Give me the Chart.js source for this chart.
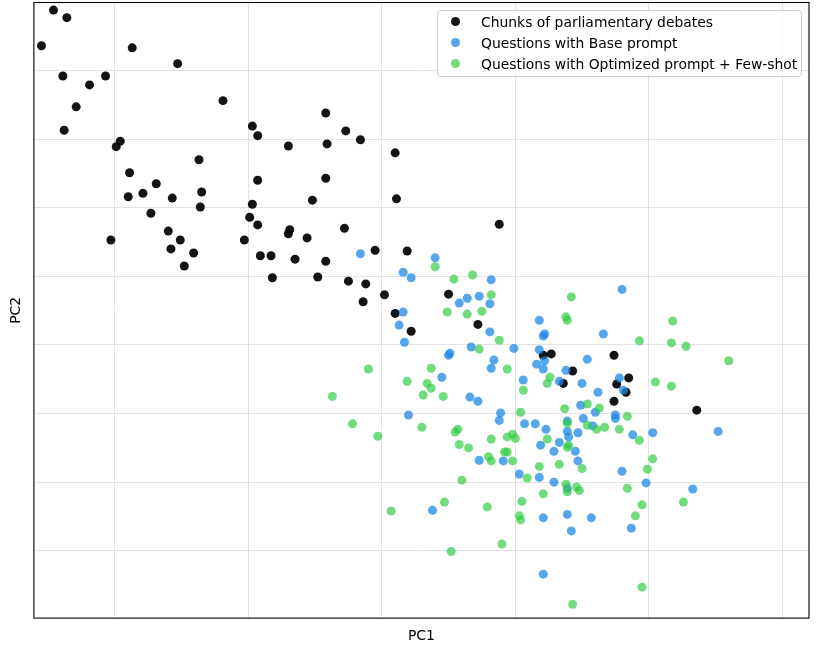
<!DOCTYPE html>
<html>
<head>
<meta charset="utf-8">
<script src="https://cdn.jsdelivr.net/npm/chart.js@4.4.1/dist/chart.umd.min.js"></script>
<style>
  body { margin: 0; background: #fff; }
  #wrap { position: relative; width: 819px; height: 653px; }
  #legend {
    position: absolute; left: 437px; top: 10px; width: 365px; height: 67px;
    box-sizing: border-box; border: 1px solid #cccccc; border-radius: 4px;
    background: rgba(255,255,255,0.8);
    font: 13.9px 'DejaVu Sans', sans-serif; color: #000;
  }
  #legend .item { display: flex; align-items: center; height: 21px; padding-left: 13px; white-space: nowrap; }
  #legend .dot  { width: 9px; height: 9px; border-radius: 50%; margin-right: 21px; flex: none; }
</style>
</head>
<body>
<div id="wrap">
  <canvas id="pca" width="819" height="653"></canvas>
  <div id="legend"></div>
</div>
<script>
// ── Data (PC1 / PC2 coordinates) ───────────────────────────────────────

const chunksPC1 = [-0.246,-0.236,-0.255,-0.187,-0.153,-0.239,-0.219,-0.207,-0.229,-0.119,
  -0.238,-0.097,-0.093,-0.070,-0.196,-0.199,-0.137,-0.189,-0.093,-0.169,
  -0.179,-0.190,-0.157,-0.135,-0.136,-0.097,-0.173,-0.099,-0.093,-0.160,
  -0.151,-0.203,-0.103,-0.069,-0.070,-0.158,-0.141,-0.091,-0.083,-0.148,
  -0.082,-0.042,-0.027,-0.041,-0.016,0.010,-0.042,-0.052,0.011,0.088,
  -0.056,-0.028,-0.005,0.019,-0.065,-0.042,-0.048,-0.025,-0.012,-0.014,
  0.002,0.010,0.022,0.050,0.072,0.121,0.127,0.143,0.174,0.136,
  0.185,0.176,0.183,0.174,0.236];
const chunksPC2 = [0.388,0.377,0.336,0.333,0.310,0.292,0.279,0.292,0.247,0.256,
  0.213,0.219,0.205,0.190,0.197,0.189,0.170,0.151,0.140,0.135,
  0.121,0.116,0.114,0.123,0.101,0.105,0.092,0.086,0.075,0.066,
  0.053,0.053,0.053,0.068,0.062,0.040,0.034,0.030,0.030,0.015,
  -0.002,0.238,0.212,0.193,0.199,0.180,0.143,0.111,0.113,0.076,
  0.056,0.070,0.038,0.037,0.025,0.022,-0.001,-0.007,-0.011,-0.037,
  -0.027,-0.054,-0.080,-0.026,-0.070,-0.115,-0.113,-0.138,-0.115,-0.156,
  -0.148,-0.157,-0.169,-0.182,-0.195];

const basePC1 = [-0.016,0.040,0.016,0.022,0.082,0.058,0.064,0.073,0.081,0.016,
  0.013,0.081,0.017,0.067,0.051,0.050,0.118,0.122,0.121,0.099,
  0.118,0.084,0.122,0.116,0.082,0.121,0.138,0.154,0.166,0.180,
  0.045,0.066,0.072,0.020,0.073,0.106,0.133,0.150,0.162,0.178,
  0.181,0.089,0.088,0.107,0.115,0.123,0.149,0.160,0.151,0.139,
  0.139,0.140,0.147,0.158,0.175,0.175,0.188,0.119,0.129,0.133,
  0.145,0.147,0.091,0.103,0.118,0.129,0.180,0.198,0.139,0.203,
  0.252,0.233,0.038,0.121,0.139,0.157,0.142,0.187,0.121];
const basePC2 = [0.033,0.027,0.006,-0.002,-0.005,-0.039,-0.032,-0.029,-0.040,-0.052,
  -0.071,-0.081,-0.096,-0.103,-0.112,-0.115,-0.064,-0.084,-0.087,-0.105,
  -0.107,-0.122,-0.123,-0.128,-0.134,-0.135,-0.137,-0.121,-0.084,-0.019,
  -0.147,-0.176,-0.182,-0.202,-0.268,-0.151,-0.153,-0.156,-0.169,-0.148,
  -0.166,-0.199,-0.210,-0.215,-0.215,-0.223,-0.188,-0.198,-0.207,-0.211,
  -0.226,-0.234,-0.228,-0.218,-0.202,-0.207,-0.231,-0.246,-0.255,-0.242,
  -0.255,-0.269,-0.269,-0.288,-0.293,-0.300,-0.284,-0.301,-0.309,-0.228,
  -0.226,-0.310,-0.341,-0.352,-0.347,-0.352,-0.371,-0.367,-0.434];

const fewShotPC1 = [0.040,0.054,0.068,0.082,0.049,0.064,0.075,0.088,0.073,-0.010,
  0.037,0.142,0.138,0.139,0.193,0.218,0.217,0.228,0.260,0.094,
  -0.037,0.019,0.034,0.037,0.031,0.046,-0.022,-0.003,0.030,0.055,
  0.057,0.058,0.065,0.082,0.060,0.126,0.124,0.106,0.154,0.163,
  0.104,0.137,0.139,0.154,0.161,0.167,0.178,0.184,0.193,0.124,
  0.094,0.098,0.100,0.139,0.140,0.092,0.094,0.098,0.080,0.082,
  0.118,0.133,0.150,0.109,0.138,0.146,0.184,0.199,0.205,0.217,
  0.203,0.007,0.047,0.079,0.052,0.105,0.121,0.103,0.104,0.090,
  0.139,0.148,0.195,0.190,0.143,0.195,0.226];
const fewShotPC2 = [0.014,-0.004,0.002,-0.027,-0.052,-0.055,-0.051,-0.093,-0.106,-0.135,
  -0.134,-0.030,-0.059,-0.064,-0.094,-0.065,-0.097,-0.102,-0.123,-0.135,
  -0.175,-0.153,-0.156,-0.163,-0.173,-0.175,-0.215,-0.233,-0.220,-0.227,
  -0.223,-0.245,-0.250,-0.237,-0.297,-0.147,-0.156,-0.166,-0.186,-0.192,
  -0.198,-0.193,-0.214,-0.217,-0.223,-0.220,-0.223,-0.204,-0.239,-0.237,
  -0.234,-0.230,-0.236,-0.249,-0.246,-0.256,-0.256,-0.269,-0.263,-0.269,
  -0.277,-0.274,-0.280,-0.294,-0.303,-0.307,-0.309,-0.281,-0.154,-0.160,
  -0.266,-0.342,-0.329,-0.336,-0.401,-0.328,-0.317,-0.349,-0.355,-0.390,
  -0.314,-0.312,-0.333,-0.349,-0.478,-0.453,-0.329];

const seriesLabels = [
  'Chunks of parliamentary debates',
  'Questions with Base prompt',
  'Questions with Optimized prompt + Few-shot',
];

// axis window of the original figure (ticks hidden, grid every 0.1)
const xRange = [-0.2607, 0.3201];
const yRange = [-0.4981, 0.3991];

function toPoints(xs, ys) {
  return xs.map((x, i) => ({ x, y: ys[i] }));
}

// ── Full black frame round the plot area ───────────────────────────────

const frame = {
  id: 'frame',
  afterDraw(chart) {
    const { ctx, chartArea: a } = chart;
    ctx.save();
    ctx.strokeStyle = '#000';
    ctx.lineWidth = 1.1;
    ctx.strokeRect(a.left, a.top, a.right - a.left, a.bottom - a.top);
    ctx.restore();
  },
};

Chart.defaults.font.family = "'DejaVu Sans', sans-serif";
Chart.defaults.color = '#000';

const colors = ['rgba(0,0,0,0.92)', 'rgba(30,136,229,0.75)', 'rgba(46,204,64,0.68)'];

function dataset(i, points) {
  return {
    label: seriesLabels[i],
    data: points,
    backgroundColor: colors[i],
    borderWidth: 0,
    pointRadius: 4.5,
    pointHoverRadius: 4.5,
    order: 3 - i,
  };
}

function axis(range, title, pad) {
  return {
    type: 'linear',
    min: range[0], max: range[1],
    ticks: { display: false, stepSize: 0.1, includeBounds: false },
    grid: { color: 'rgba(0,0,0,0.11)', drawTicks: false },
    border: { display: false },
    title: { display: true, text: title, font: { size: 13.9 }, padding: pad },
  };
}

const chart = new Chart(document.getElementById('pca'), {
  type: 'scatter',
  data: {
    datasets: [
      dataset(0, toPoints(chunksPC1, chunksPC2)),
      dataset(1, toPoints(basePC1, basePC2)),
      dataset(2, toPoints(fewShotPC1, fewShotPC2)),
    ],
  },
  options: {
    responsive: false,
    animation: false,
    layout: { autoPadding: false, padding: { top: 2.5, right: 10, left: 0, bottom: 0 } },
    scales: {
      x: axis(xRange, 'PC1', { top: 9.6, bottom: 8.6 }),
      y: axis(yRange, 'PC2', { top: 7.6, bottom: 9.6 }),
    },
    plugins: { legend: { display: false }, tooltip: { enabled: false } },
  },
  plugins: [frame],
});

// ── Legend box (upper right, like the original) ────────────────────────

const legend = document.getElementById('legend');
chart.data.datasets.forEach(ds => {
  const item = document.createElement('div');
  item.className = 'item';
  const dot = document.createElement('span');
  dot.className = 'dot';
  dot.style.background = ds.backgroundColor;
  item.appendChild(dot);
  item.appendChild(document.createTextNode(ds.label));
  legend.appendChild(item);
});
</script>
</body>
</html>
